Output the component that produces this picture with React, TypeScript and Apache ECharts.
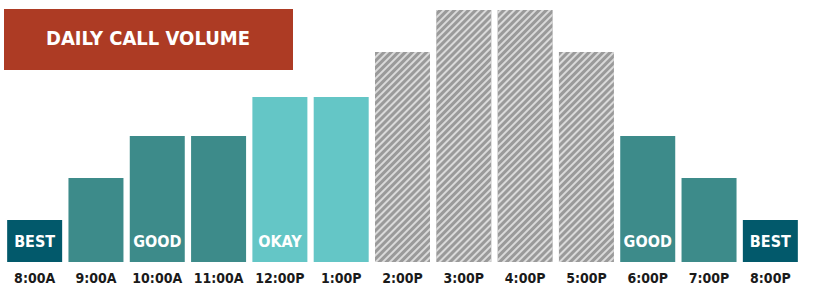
import React, { useEffect, useRef } from "react";
import * as echarts from "echarts";

const categories = ["8:00A", "9:00A", "10:00A", "11:00A", "12:00P", "1:00P", "2:00P", "3:00P", "4:00P", "5:00P", "6:00P", "7:00P", "8:00P"];
const volumes = [1, 2, 3, 3, 3.93, 3.93, 5, 6, 6, 5, 3, 2, 1];
const tiers = ["best", "good", "good", "good", "okay", "okay", "busy", "busy", "busy", "busy", "good", "good", "best"];
const barLabels = ["BEST", "", "GOOD", "", "OKAY", "", "", "", "", "", "GOOD", "", "BEST"];
const title = "DAILY CALL VOLUME";

const tierColors: Record<string, string> = {
  best: "#02596b",
  good: "#3d8b8a",
  okay: "#64c6c6",
  busy: "#9a9a9a",
};

const FONT = '"Liberation Sans Narrow", "DejaVu Sans Condensed", "Roboto", sans-serif';

export default function App() {
  const ref = useRef<HTMLDivElement>(null);
  useEffect(() => {
    document.body.style.margin = "0";
    const chart = echarts.init(ref.current!, null, { renderer: "svg" });
    const data = volumes.map((v, i) => {
      const tier = tiers[i];
      const item: any = {
        value: v,
        itemStyle: { color: tierColors[tier] },
        label: {
          show: barLabels[i] !== "",
          formatter: barLabels[i],
        },
      };
      if (tier === "busy") {
        item.itemStyle.decal = {
          symbol: "rect",
          symbolSize: 1,
          color: "rgba(225,225,225,0.9)",
          dashArrayX: [1, 0],
          dashArrayY: [1.3, 3],
          rotation: -Math.PI / 4,
        };
      }
      return item;
    });
    chart.setOption({
      animation: false,
      grid: { left: 4, right: 14, top: 10, bottom: 27 },
      xAxis: {
        type: "category",
        data: categories,
        axisLine: { show: false },
        axisTick: { show: false },
        axisLabel: {
          interval: 0,
          color: "#1a1a1a",
          fontFamily: FONT,
          fontWeight: "bold",
          fontSize: 14,
          margin: 9,
        },
      },
      yAxis: {
        type: "value",
        min: 0,
        max: 6,
        show: false,
        splitLine: { show: false },
      },
      series: [
        {
          type: "bar",
          data,
          barWidth: 55,
          label: {
            position: "insideBottom",
            distance: 13,
            color: "#fff",
            fontFamily: FONT,
            fontWeight: "bold",
            fontSize: 16,
          },
        },
      ],
      graphic: [
        {
          type: "rect",
          left: 4,
          top: 9,
          shape: { width: 289, height: 61 },
          style: { fill: "#ad3b24" },
          z: 10,
        },
        {
          type: "text",
          left: 46,
          top: 28,
          style: {
            text: title,
            fill: "#fff",
            font: `bold 20px ${FONT}`,
          },
          z: 11,
        },
      ],
    });
    return () => chart.dispose();
  }, []);
  return <div ref={ref} style={{ width: 815, height: 289 }} />;
}
